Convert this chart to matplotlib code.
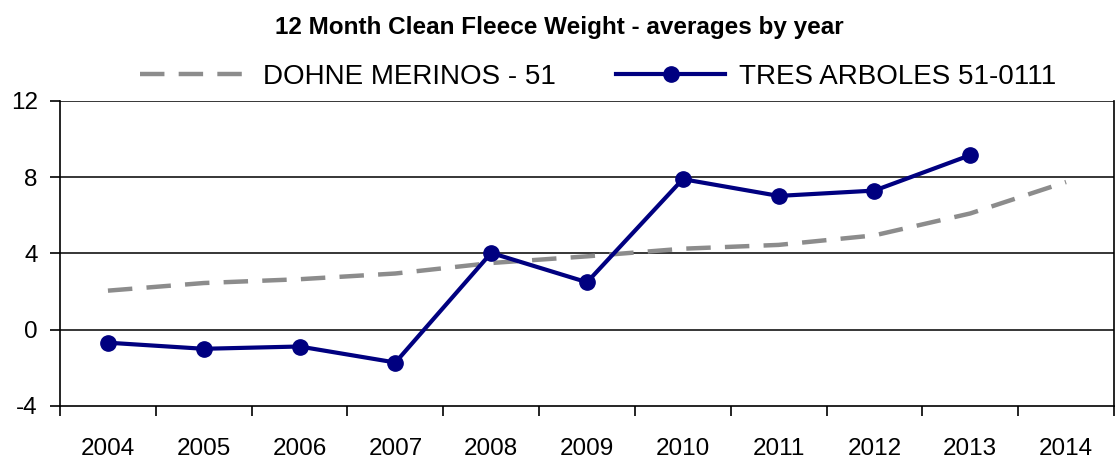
import numpy as np
import matplotlib
matplotlib.use('Agg')
import matplotlib.pyplot as plt
from matplotlib.ticker import FixedLocator, NullFormatter

plt.rcParams['font.family'] = ['Liberation Sans', 'DejaVu Sans']

# ===== Data =====
years = ['2004', '2005', '2006', '2007', '2008', '2009',
         '2010', '2011', '2012', '2013', '2014']
dohne = [2.05, 2.45, 2.65, 2.95, 3.5, 3.85, 4.25, 4.45, 4.95, 6.1, 7.75]
tres = [-0.68, -1.0, -0.88, -1.72, 4.03, 2.49, 7.9, 7.02, 7.3, 9.16]
y_ticks = [-4, 0, 4, 8, 12]

x = np.arange(len(years))

fig = plt.figure(figsize=(11.18, 4.66), dpi=100)
ax = fig.add_axes([0.0537, 0.1288, 0.9427, 0.6545])

# grid lines (Excel style, black)
for yv in y_ticks[1:]:
    ax.axhline(yv, color='black', lw=1.1, zorder=1)

ax.plot(x, dohne, color='#8c8c8c', lw=3.2, dashes=(5.5, 3.2),
        label='DOHNE MERINOS - 51', zorder=2)
ax.plot(x[:len(tres)], tres, color='#000080', lw=3, marker='o',
        markersize=11, label='TRES ARBOLES 51-0111', zorder=3)

ax.set_xlim(-0.5, len(years) - 0.5)
ax.set_ylim(-4, 12)
ax.set_yticks(y_ticks)
ax.set_yticklabels([str(v) for v in y_ticks])

# category axis: ticks between categories, labels centred
ax.xaxis.set_major_locator(FixedLocator(np.arange(-0.5, len(years), 1.0)))
ax.xaxis.set_major_formatter(NullFormatter())
ax.xaxis.set_minor_locator(FixedLocator(x))
ax.set_xticklabels(years, minor=True)
ax.tick_params(axis='x', which='major', direction='out', length=7, width=1.2)
ax.tick_params(axis='x', which='minor', length=0, pad=23, labelsize=17.5)
ax.tick_params(axis='y', direction='out', length=7, width=1.2, pad=9,
               labelsize=17.5)

ax.spines['top'].set_visible(False)
for s in ['left', 'bottom', 'right']:
    ax.spines[s].set_linewidth(1.2)

fig.text(0.5, 0.94, '12 Month Clean Fleece Weight - averages by year',
         ha='center', va='center', fontsize=17.5, fontweight='bold')

fig.legend(loc='center', bbox_to_anchor=(0.535, 0.835), ncol=2,
           frameon=False, fontsize=20, handlelength=3.9,
           handletextpad=0.5, columnspacing=2.2, borderaxespad=0)

fig.savefig('out.png', dpi=100)
